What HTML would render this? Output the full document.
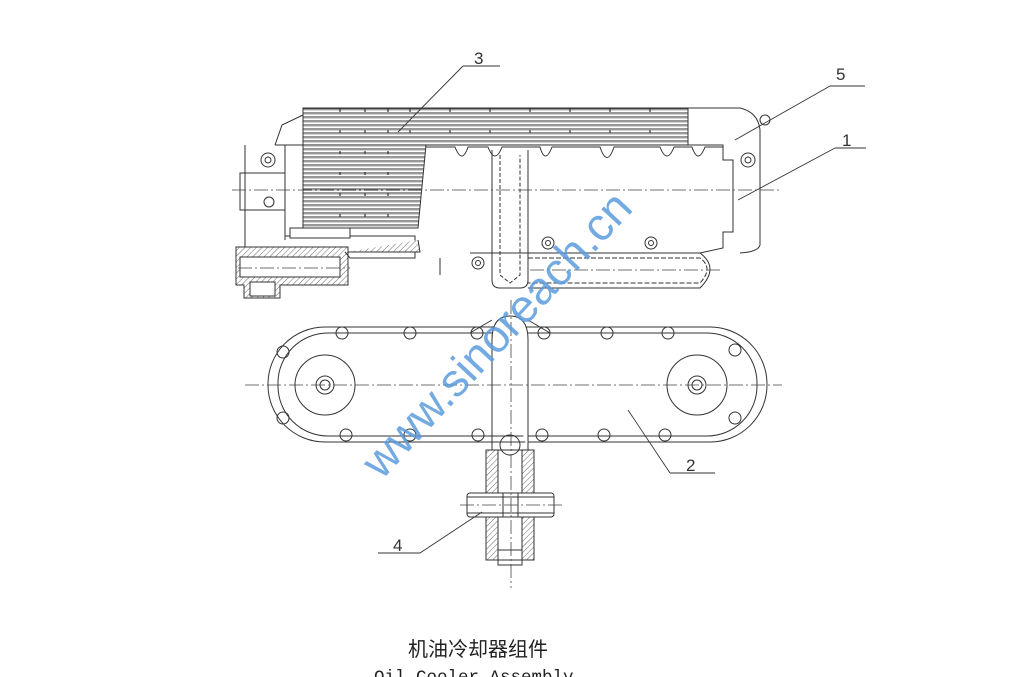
<!DOCTYPE html>
<html><head><meta charset="utf-8"><style>
html,body{margin:0;padding:0;background:#fff;width:1024px;height:677px;overflow:hidden}
svg{display:block}
</style></head><body>
<svg width="1024" height="677" viewBox="0 0 1024 677" xmlns="http://www.w3.org/2000/svg">
<defs>
<pattern id="fins" width="10" height="4" patternUnits="userSpaceOnUse">
<rect width="10" height="4" fill="#fff"/><line x1="0" y1="1" x2="10" y2="1" stroke="#444" stroke-width="1.1"/><line x1="0" y1="2.7" x2="10" y2="2.7" stroke="#aaa" stroke-width="0.5"/>
</pattern>
<pattern id="hatch" width="4" height="4" patternUnits="userSpaceOnUse" patternTransform="rotate(45)">
<rect width="4" height="4" fill="#fff"/><line x1="0" y1="0" x2="0" y2="4" stroke="#444" stroke-width="0.8"/>
</pattern>
</defs>
<g fill="none" stroke="#333" stroke-width="1">
<path d="M275 145 L723 145 L723 160 L733 160 L733 232 L723 232 L723 248 L700 253 L470 253"/>
<path d="M275 145 L282 125 L303 115 M688 108 L740 108 Q758 112 760 130 L760 245 Q758 252 740 253"/>
<rect x="303" y="108" width="385" height="37" fill="url(#fins)"/>
<path d="M303 145 L426 145 L418 228 L303 228 Z" fill="url(#fins)"/>
<g stroke="#333" stroke-width="1.2" stroke-dasharray="3 18">
<line x1="340" y1="109" x2="340" y2="228"/><line x1="365" y1="109" x2="365" y2="228"/><line x1="388" y1="109" x2="388" y2="228"/><line x1="410" y1="109" x2="410" y2="145"/><line x1="450" y1="109" x2="450" y2="145"/><line x1="490" y1="109" x2="490" y2="145"/><line x1="530" y1="109" x2="530" y2="145"/><line x1="570" y1="109" x2="570" y2="145"/><line x1="610" y1="109" x2="610" y2="145"/><line x1="650" y1="109" x2="650" y2="145"/>
</g>
<line x1="303" y1="108" x2="303" y2="230"/>
<path d="M426 147 L455 147 Q462 165 468 147 L488 147 Q495 165 502 147 L540 147 Q545 165 552 147 L600 147 Q607 168 614 147 L660 147 Q667 165 674 147 L692 147 Q698 165 705 147 L723 147"/>
<path d="M492 150 L492 280 Q492 288 500 288 L520 288 Q528 288 528 280 L528 150"/>
<path d="M500 155 L500 275 L510 283 L520 275 L520 155" stroke-dasharray="4 2"/>
<path d="M528 258 L700 258 Q714 268 700 283 L528 283" stroke-dasharray="5 2"/>
<path d="M528 253 L700 253 Q720 268 700 288 L528 288"/>
<circle cx="548" cy="243" r="6"/><circle cx="548" cy="243" r="2.5"/>
<circle cx="651" cy="243" r="6"/><circle cx="651" cy="243" r="2.5"/>
<circle cx="478" cy="263" r="6"/><circle cx="478" cy="263" r="2.5"/>
<circle cx="268" cy="160" r="7"/><circle cx="268" cy="160" r="3"/>
<circle cx="748" cy="160" r="7"/><circle cx="748" cy="160" r="3"/>
<circle cx="765" cy="120" r="5"/>
<circle cx="269" cy="202" r="5"/>
<path d="M240 173 L285 173 L285 210 L240 210 Z"/>
<path d="M245 145 L245 260 M285 145 L285 240"/>
<path d="M236 247 L348 247 L348 285 L280 285 L280 298 L244 298 L244 285 L236 285 Z" fill="url(#hatch)"/>
<rect x="240" y="257" width="100" height="20" fill="#fff"/>
<rect x="250" y="282" width="25" height="14" fill="#fff"/>
<path d="M285 236 L415 236 L415 258 L350 258 L345 252"/>
<rect x="290" y="228" width="60" height="10" fill="#fff"/>
<path d="M348 252 L420 252 L418 240" fill="url(#hatch)"/>
<line x1="440" y1="258" x2="440" y2="275"/>
<rect x="268" y="327" width="499" height="115" rx="57" ry="57"/>
<rect x="278" y="333" width="479" height="103" rx="50" ry="50"/>
<circle cx="325" cy="385" r="30"/><circle cx="325" cy="385" r="9"/><circle cx="325" cy="385" r="5"/>
<circle cx="697" cy="385" r="30"/><circle cx="697" cy="385" r="9"/><circle cx="697" cy="385" r="5"/>
<g>
<circle cx="342" cy="333" r="6"/><circle cx="410" cy="333" r="6"/><circle cx="477" cy="333" r="6"/><circle cx="544" cy="333" r="6"/><circle cx="607" cy="333" r="6"/><circle cx="668" cy="333" r="6"/>
<circle cx="346" cy="435" r="6"/><circle cx="410" cy="435" r="6"/><circle cx="478" cy="435" r="6"/><circle cx="542" cy="435" r="6"/><circle cx="604" cy="435" r="6"/><circle cx="665" cy="435" r="6"/>
<circle cx="283" cy="352" r="6"/><circle cx="283" cy="418" r="6"/><circle cx="735" cy="350" r="6"/><circle cx="735" cy="418" r="6"/>
</g>
<path d="M492 340 Q492 316 510 316 Q528 316 528 340 L528 450 M492 340 L492 450" fill="#fff"/>
<path d="M470 333 L492 320 M550 333 L528 320"/>
<path d="M486 450 L534 450 L534 560 L486 560 Z"/>
<rect x="486" y="450" width="12" height="110" fill="url(#hatch)"/>
<rect x="522" y="450" width="12" height="110" fill="url(#hatch)"/>
<rect x="467" y="493" width="87" height="24" rx="3" fill="#fff"/>
<line x1="467" y1="497" x2="554" y2="497"/><line x1="467" y1="513" x2="554" y2="513"/>
<line x1="503" y1="493" x2="503" y2="517"/><line x1="518" y1="493" x2="518" y2="517"/>
<path d="M498 550 L522 550 L522 565 L498 565 Z"/>
<circle cx="510" cy="445" r="10"/>
</g>
<g stroke="#444" stroke-width="0.8" stroke-dasharray="14 3 2 3" fill="none">
<line x1="232" y1="190" x2="782" y2="190"/>
<line x1="245" y1="385" x2="782" y2="385"/>
<line x1="511" y1="300" x2="511" y2="588"/>
<line x1="238" y1="268" x2="350" y2="268"/>
<line x1="530" y1="270" x2="720" y2="270"/>
<line x1="460" y1="505" x2="562" y2="505"/>
</g>
<g stroke="#333" stroke-width="0.9" fill="none">
<path d="M463 66 L500 66 M463 66 L398 132"/>
<path d="M830 86 L865 86 M830 86 L735 140"/>
<path d="M835 148 L866 148 M835 148 L738 200"/>
<path d="M670 473 L715 473 M670 473 L628 410"/>
<path d="M378 553 L420 553 M420 553 L482 512"/>
</g>
<g font-family="Liberation Sans, sans-serif" font-size="17" fill="#333">
<text x="474" y="64">3</text>
<text x="836" y="80">5</text>
<text x="842" y="146">1</text>
<text x="686" y="471">2</text>
<text x="393" y="551">4</text>
</g>
<text x="508" y="345" transform="rotate(-47 508 345)" text-anchor="middle" font-family="Liberation Sans, sans-serif" font-size="46" fill="#5b9bdc" fill-opacity="0.85">www.sinoreach.cn</text>
<text x="478" y="656" text-anchor="middle" font-family="Liberation Sans, 'Noto Sans CJK SC', sans-serif" font-size="20" fill="#222">机油冷却器组件</text>
<text x="374" y="682" font-family="Liberation Mono, monospace" font-size="17.5" fill="#222">Oil Cooler Assembly</text>
</svg>
</body></html>
